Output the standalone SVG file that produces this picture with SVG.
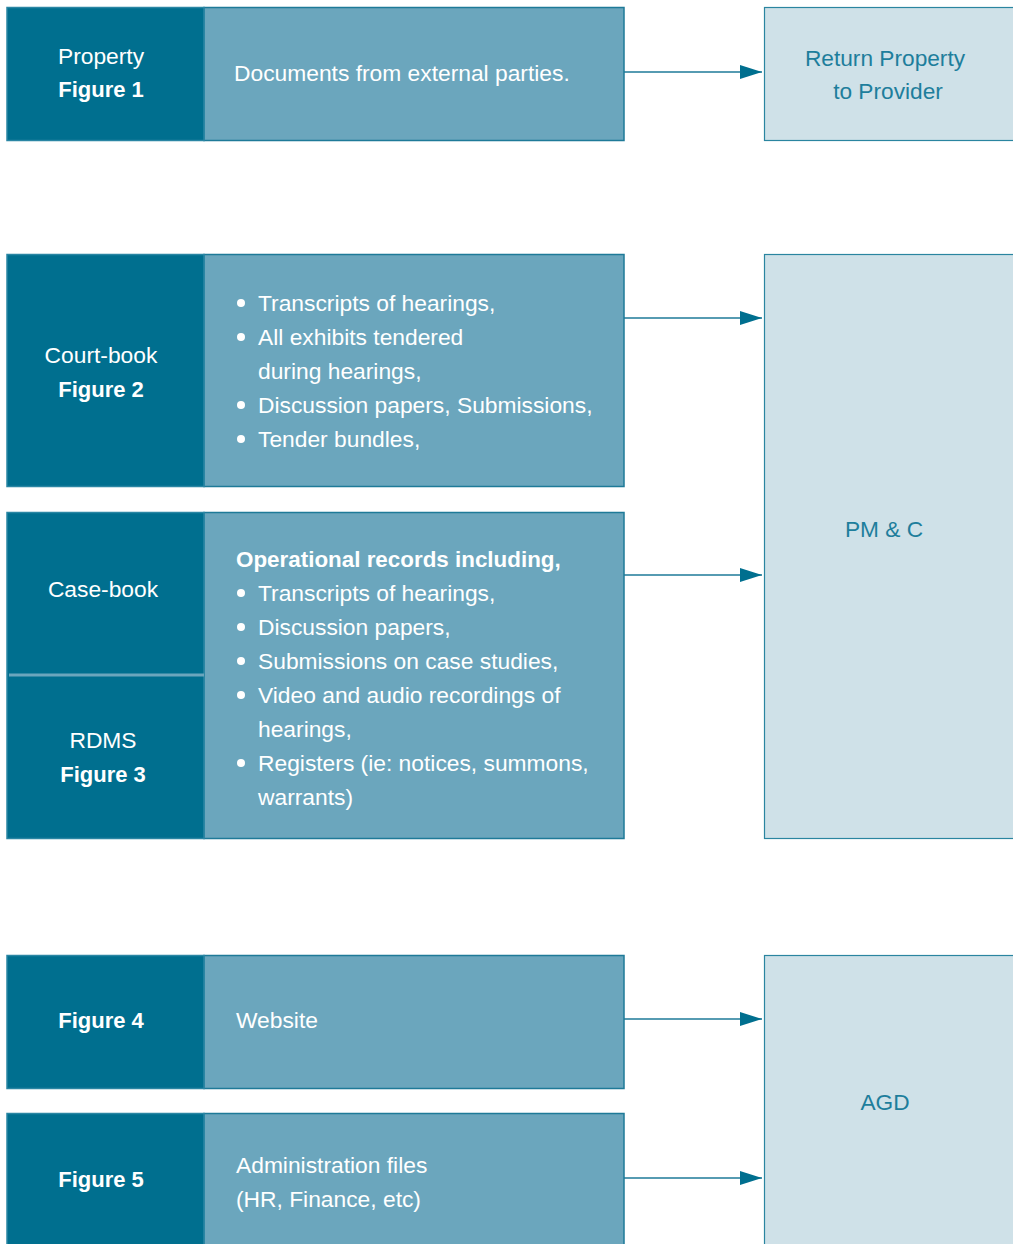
<svg xmlns="http://www.w3.org/2000/svg" width="1013" height="1244" viewBox="0 0 1013 1244">
  <defs>
    <marker id="arrow" markerWidth="22" markerHeight="14" refX="22" refY="7" orient="auto" markerUnits="userSpaceOnUse">
      <path d="M0,0 L22,7 L0,14 Z" fill="#006f8f"/>
    </marker>
    <style>
      .dark { fill: #006f8f; stroke: #2a86a4; stroke-width: 1.5; }
      .mid { fill: #6ba6bd; stroke: #1e7a98; stroke-width: 1.5; }
      .pale { fill: #cfe1e8; stroke: #2a85a0; stroke-width: 1.2; }
      .t { font-family: "Liberation Sans", Arial, sans-serif; font-size: 22.8px; fill: #ffffff; }
      .b { font-weight: bold; font-size: 22px; }
      .h { font-size: 22.4px; }
      .c { text-anchor: middle; }
      .r { font-family: "Liberation Sans", Arial, sans-serif; font-size: 22.7px; fill: #1e7e9c; text-anchor: middle; }
      .link { stroke: #1e7a98; stroke-width: 1.5; fill: none; }
    </style>
  </defs>

  <rect x="0" y="0" width="1013" height="1244" fill="#ffffff"/>

  <!-- Property / Figure 1 -->
  <g id="fig1">
    <rect class="mid" x="204" y="7.5" width="420" height="133"/>
    <rect class="dark" x="7" y="7.5" width="197" height="133"/>
    <text class="t c" x="101" y="64">Property</text>
    <text class="t b c" x="101" y="97">Figure 1</text>
    <text class="t" x="234" y="81">Documents from external parties.</text>
  </g>

  <!-- Court-book / Figure 2 -->
  <g id="fig2">
    <rect class="mid" x="204" y="254.5" width="420" height="232"/>
    <rect class="dark" x="7" y="254.5" width="197" height="232"/>
    <text class="t c" x="101" y="363">Court-book</text>
    <text class="t b c" x="101" y="397">Figure 2</text>
    <g class="t">
      <circle cx="241" cy="303" r="4" fill="#ffffff"/>
      <text x="258" y="311">Transcripts of hearings,</text>
      <circle cx="241" cy="337" r="4" fill="#ffffff"/>
      <text x="258" y="345">All exhibits tendered</text>
      <text x="258" y="379">during hearings,</text>
      <circle cx="241" cy="405" r="4" fill="#ffffff"/>
      <text x="258" y="413">Discussion papers, Submissions,</text>
      <circle cx="241" cy="439" r="4" fill="#ffffff"/>
      <text x="258" y="447">Tender bundles,</text>
    </g>
  </g>

  <!-- Case-book and RDMS / Figure 3 -->
  <g id="fig3">
    <rect class="mid" x="204" y="512.5" width="420" height="326"/>
    <rect class="dark" x="7" y="512.5" width="197" height="326"/>
    <line x1="9" y1="675" x2="204" y2="675" stroke="#6ba6bd" stroke-width="3"/>
    <text class="t c" x="103" y="597">Case-book</text>
    <text class="t c" x="103" y="748">RDMS</text>
    <text class="t b c" x="103" y="782">Figure 3</text>
    <text class="t b h" x="236" y="567">Operational records including,</text>
    <circle cx="241" cy="593" r="4" fill="#ffffff"/>
    <text class="t" x="258" y="601">Transcripts of hearings,</text>
    <circle cx="241" cy="627" r="4" fill="#ffffff"/>
    <text class="t" x="258" y="635">Discussion papers,</text>
    <circle cx="241" cy="661" r="4" fill="#ffffff"/>
    <text class="t" x="258" y="669">Submissions on case studies,</text>
    <circle cx="241" cy="695" r="4" fill="#ffffff"/>
    <text class="t" x="258" y="703">Video and audio recordings of</text>
    <text class="t" x="258" y="737">hearings,</text>
    <circle cx="241" cy="763" r="4" fill="#ffffff"/>
    <text class="t" x="258" y="771">Registers (ie: notices, summons,</text>
    <text class="t" x="258" y="805">warrants)</text>
  </g>

  <!-- Figure 4 -->
  <g id="fig4">
    <rect class="mid" x="204" y="955.5" width="420" height="133"/>
    <rect class="dark" x="7" y="955.5" width="197" height="133"/>
    <text class="t b c" x="101" y="1028">Figure 4</text>
    <text class="t" x="236" y="1028">Website</text>
  </g>

  <!-- Figure 5 -->
  <g id="fig5">
    <rect class="mid" x="204" y="1113.5" width="420" height="140"/>
    <rect class="dark" x="7" y="1113.5" width="197" height="140"/>
    <text class="t b c" x="101" y="1187">Figure 5</text>
    <text class="t" x="236" y="1173">Administration files</text>
    <text class="t" x="236" y="1207">(HR, Finance, etc)</text>
  </g>

  <!-- Destinations -->
  <g id="return-property">
    <rect class="pale" x="764.5" y="7.5" width="260" height="133"/>
    <text class="r" x="885" y="66">Return Property</text>
    <text class="r" x="888" y="99">to Provider</text>
  </g>
  <g id="pmc">
    <rect class="pale" x="764.5" y="254.5" width="260" height="584"/>
    <text class="r" x="884" y="537">PM &amp; C</text>
  </g>
  <g id="agd">
    <rect class="pale" x="764.5" y="955.5" width="260" height="300"/>
    <text class="r" x="885" y="1110">AGD</text>
  </g>

  <!-- Connectors -->
  <g id="connectors">
    <line class="link" x1="624" y1="72" x2="762" y2="72" marker-end="url(#arrow)"/>
    <line class="link" x1="624" y1="318" x2="762" y2="318" marker-end="url(#arrow)"/>
    <line class="link" x1="624" y1="575" x2="762" y2="575" marker-end="url(#arrow)"/>
    <line class="link" x1="624" y1="1019" x2="762" y2="1019" marker-end="url(#arrow)"/>
    <line class="link" x1="624" y1="1178" x2="762" y2="1178" marker-end="url(#arrow)"/>
  </g>
</svg>
